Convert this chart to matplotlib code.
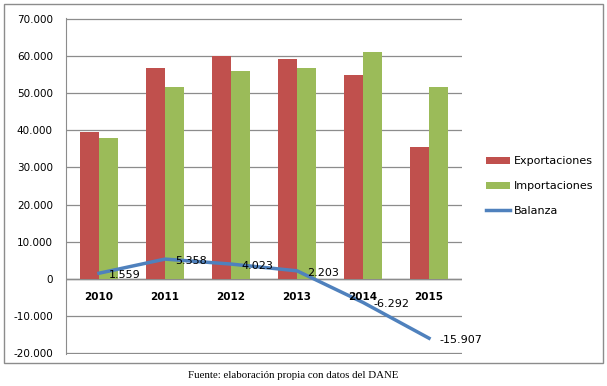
import numpy as np
import matplotlib.pyplot as plt
from matplotlib.patches import Rectangle
from matplotlib.ticker import FuncFormatter

years = ["2010", "2011", "2012", "2013", "2014", "2015"]
exportaciones = [39.6, 56.8, 60.0, 59.0, 54.7, 35.6]
importaciones = [38.0, 51.5, 56.0, 56.6, 61.0, 51.7]
balanza = [1.559, 5.358, 4.023, 2.203, -6.292, -15.907]
balanza_labels = ["1.559", "5.358", "4.023", "2.203", "-6.292", "-15.907"]

RED = "#C0504D"
GREEN = "#9BBB59"
BLUE = "#4F81BD"

fig = plt.figure(figsize=(6.07, 3.86), dpi=100)
ax = fig.add_axes([66 / 607, 1 - 354 / 386, 396 / 607, 336 / 386])

x = np.arange(len(years))
w = 0.29
b1 = ax.bar(x - w / 2, exportaciones, w, color=RED, label="Exportaciones", zorder=2)
b2 = ax.bar(x + w / 2, importaciones, w, color=GREEN, label="Importaciones", zorder=2)
l1, = ax.plot(x, balanza, color=BLUE, lw=2.5, label="Balanza", zorder=3)

for xi, yi, lab in zip(x, balanza, balanza_labels):
    ax.annotate(lab, (xi, yi), xytext=(10, -2), textcoords="offset pixels",
                ha="left", va="center", fontsize=8, zorder=4)

for xi, yr in zip(x, years):
    ax.text(xi, -4.8, yr, ha="center", va="center", fontsize=7.5,
            fontweight="bold", zorder=4)

ax.set_xlim(-0.5, len(years) - 0.5)
ax.set_ylim(-20.15, 70.15)
ax.set_yticks(np.arange(-20, 71, 10))
ax.yaxis.set_major_formatter(FuncFormatter(
    lambda v, p: "0" if v == 0 else f"{v:.3f}"))
ax.set_xticks([])
ax.tick_params(axis="y", length=0, labelsize=7.5, pad=9.5)
ax.grid(axis="y", color="#8c8c8c", lw=0.9, zorder=0)
ax.axhline(0, color="#777777", lw=1.0, zorder=1)
for s in ["top", "right", "bottom"]:
    ax.spines[s].set_visible(False)
ax.spines["left"].set_color("#8c8c8c")

fig.legend([b1, b2, l1], ["Exportaciones", "Importaciones", "Balanza"],
           loc="upper left", bbox_to_anchor=(476 / 607, 1 - 146 / 386),
           frameon=False, fontsize=8, handlelength=2.2,
           handleheight=0.6, labelspacing=1.35, handletextpad=0.3)

fig.patches.append(Rectangle((4 / 607, 1 - 363 / 386), 599 / 607, 359 / 386,
                             transform=fig.transFigure, fill=False,
                             edgecolor="#8c8c8c", lw=1.0))

fig.text(293 / 607, 1 - 376 / 386, "Fuente: elaboración propia con datos del DANE",
         ha="center", va="center", fontsize=7.8, family="Liberation Serif")

fig.savefig("out.png", dpi=100)
